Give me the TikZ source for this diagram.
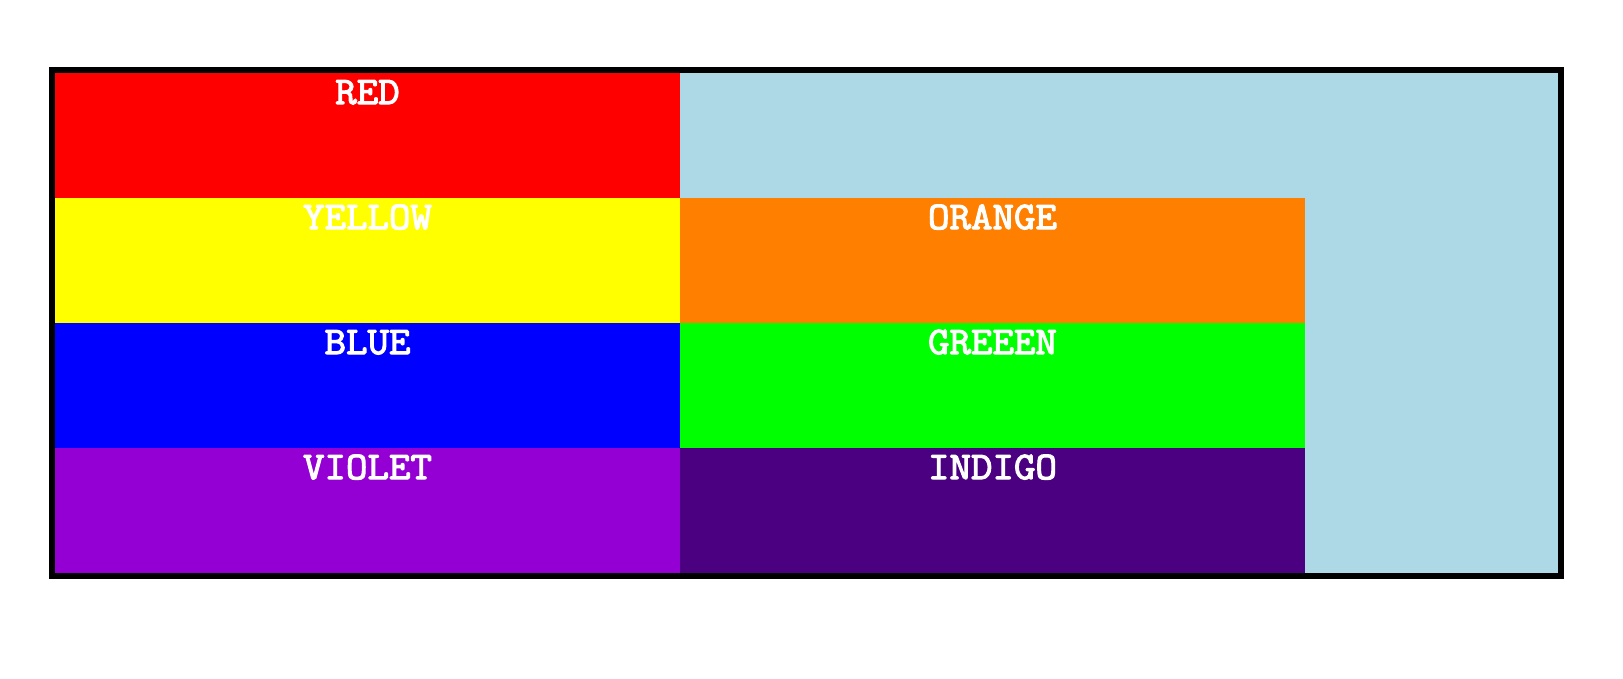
\documentclass[tikz,border=0pt]{standalone}
\usepackage{fontspec}
\newfontfamily\cellfont{Latin Modern Mono}[FakeBold=3,FakeStretch=1.07]
\definecolor{cred}{HTML}{FF0000}
\definecolor{cyellow}{HTML}{FFFF00}
\definecolor{cblue}{HTML}{0000FF}
\definecolor{cviolet}{HTML}{9400D3}
\definecolor{corange}{HTML}{FF8000}
\definecolor{cgreen}{HTML}{00FF00}
\definecolor{cindigo}{HTML}{4B0082}
\definecolor{clightblue}{HTML}{ADD8E6}
\tikzset{
  celltext/.style={anchor=base, inner sep=0pt, text=white, font=\cellfont\fontsize{39}{39}\selectfont}
}
\begin{document}
\begin{tikzpicture}[x=1pt,y=-1pt]
\useasboundingbox (0,0) rectangle (1623,678);
\fill[clightblue] (52,70) rectangle (1561,576);
\fill[cred] (55,73) rectangle (680,198);
\fill[cyellow] (55,198) rectangle (680,323);
\fill[cblue] (55,323) rectangle (680,448);
\fill[cviolet] (55,448) rectangle (680,573);
\fill[corange] (680,198) rectangle (1305,323);
\fill[cgreen] (680,323) rectangle (1305,448);
\fill[cindigo] (680,448) rectangle (1305,573);
\draw[line width=6pt] (52,70) rectangle (1561,576);
\node[celltext] (red) at (367.5,104) {RED};
\node[celltext] (yellow) at (367.5,229) {YELLOW};
\node[celltext] (blue) at (367.5,354) {BLUE};
\node[celltext] (violet) at (367.5,479) {VIOLET};
\node[celltext] (orange) at (992.5,229) {ORANGE};
\node[celltext] (green) at (992.5,354) {GREEEN};
\node[celltext] (indigo) at (992.5,479) {INDIGO};
\end{tikzpicture}
\end{document}
